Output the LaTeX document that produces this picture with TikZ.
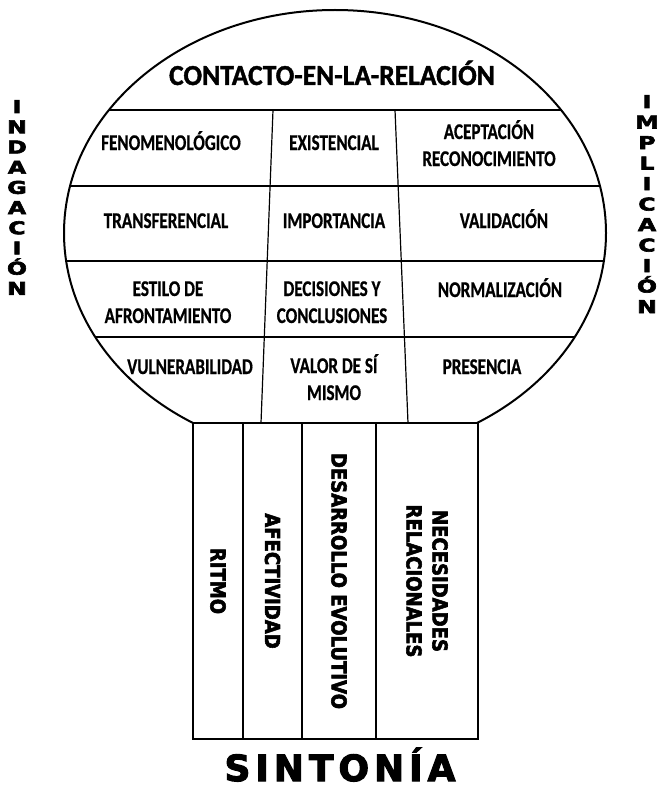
\documentclass[tikz,border=0pt]{standalone}
\usepackage{fontspec}
\newfontfamily\cellfont[FakeStretch=0.76,FakeBold=0.6]{Carlito}
\newfontfamily\headfont[FakeStretch=0.95,FakeBold=1.4]{Carlito}
\newfontfamily\heavyfont[FakeStretch=0.88,FakeBold=2.8]{DejaVu Sans}
\newfontfamily\widefont[FakeStretch=1.35,FakeBold=3.5]{DejaVu Sans}
\newfontfamily\titlefont[FakeBold=3]{DejaVu Sans}

\begin{document}
\begin{tikzpicture}[x=1pt, y=-1pt,
		cell/.style={anchor=base, align=center, inner sep=0pt,
			font=\cellfont\bfseries\fontsize{22.5}{27}\selectfont},
		pillar/.style={draw, line width=2.4pt, rotate=-90, minimum width=316pt,
			inner sep=0pt, align=center,
			font=\heavyfont\bfseries\fontsize{20.5}{26}\selectfont},
		sideletter/.style={anchor=base, inner sep=0pt,
			font=\widefont\bfseries\fontsize{17.5}{17.5}\selectfont}]

		\useasboundingbox (0,0) rectangle (659,789);
		\coordinate (c) at (335,233);

		% contorno del globo
		\begin{scope}
			\clip (0,0) rectangle (659,423);
			\draw[line width=2pt] (c) ellipse [x radius=271pt, y radius=223pt];
		\end{scope}

		% rejilla interior
		\begin{scope}[line width=1.2pt]
			\clip (c) ellipse [x radius=271pt, y radius=223pt];
			\foreach \y in {110,186,261,337}
				\draw (0,\y) -- (659,\y);
			\draw (273,110) -- (261,423);
			\draw (395,110) -- (408,423);
		\end{scope}

		\node[cell, font=\headfont\bfseries\fontsize{29}{29}\selectfont] (titulo) at (332,85) {CONTACTO-EN-LA-RELACIÓN};

		\node[cell] (fenom)   at (171,150) {FENOMENOLÓGICO};
		\node[cell] (exist)   at (334,150) {EXISTENCIAL};
		\node[cell] (acept)   at (489,166) {ACEPTACIÓN\\RECONOCIMIENTO};

		\node[cell] (transf)  at (166,228) {TRANSFERENCIAL};
		\node[cell] (import)  at (334,228) {IMPORTANCIA};
		\node[cell] (valid)   at (504,228) {VALIDACIÓN};

		\node[cell] (estilo)  at (168,323) {ESTILO DE\\AFRONTAMIENTO};
		\node[cell] (decis)   at (332,323) {DECISIONES Y\\CONCLUSIONES};
		\node[cell] (normal)  at (500,297) {NORMALIZACIÓN};

		\node[cell] (vulner)  at (190,374) {VULNERABILIDAD};
		\node[cell] (valor)   at (334,400) {VALOR DE SÍ\\MISMO};
		\node[cell] (presen)  at (482,374) {PRESENCIA};

		% columnas
		\node[pillar, minimum height=50pt]  (ritmo)  at (218,581)   {RITMO};
		\node[pillar, minimum height=59pt]  (afect)  at (272.5,581) {AFECTIVIDAD};
		\node[pillar, minimum height=74pt]  (desarr) at (339,581)   {DESARROLLO EVOLUTIVO};
		\node[pillar, minimum height=102pt] (neces)  at (427,581)   {NECESIDADES\\RELACIONALES};

		% letras laterales
		\foreach \l [count=\i] in {I,N,D,A,G,A,C,I,Ó,N}
			\node[sideletter] (ind-\i) at (17,{113+(\i-1)*20.2}) {\l};
		\foreach \l [count=\i] in {I,M,P,L,I,C,A,C,I,Ó,N}
			\node[sideletter] (imp-\i) at (647,{108+(\i-1)*20.5}) {\l};

		\node[anchor=base, inner sep=0pt, font=\titlefont\bfseries\fontsize{36}{36}\selectfont] (sintonia) at (340,781)
			{S\kern5pt I\kern5pt N\kern5pt T\kern5pt O\kern5pt N\kern5pt Í\kern5pt A};

	\end{tikzpicture}
\end{document}
